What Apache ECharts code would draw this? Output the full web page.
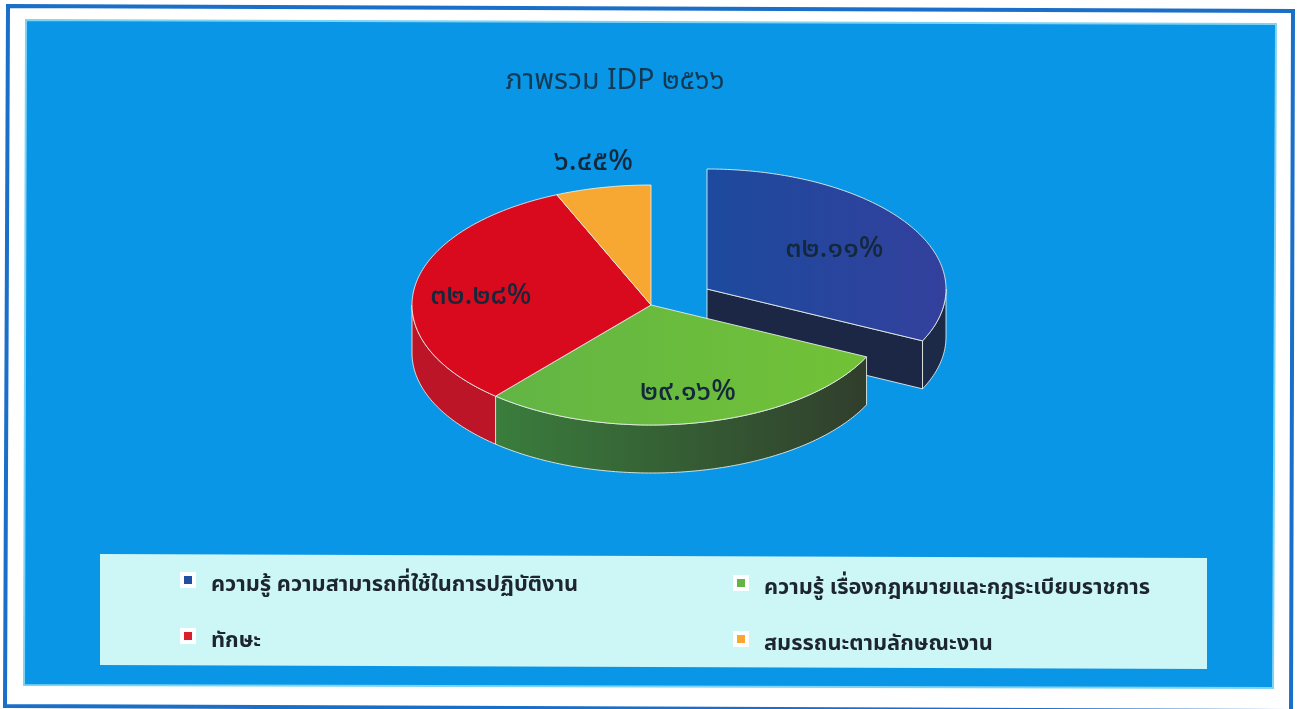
<!DOCTYPE html>
<html><head><meta charset="utf-8">
<style>html,body{margin:0;padding:0;background:#fff}#c{width:1297px;height:709px}</style>
<script src="https://cdn.jsdelivr.net/npm/echarts@6/dist/echarts.min.js"></script>
</head><body><div id="c"></div>
<script>
const titleText = 'ภาพรวม IDP ๒๕๖๖';
const categories = ['ความรู้ ความสามารถที่ใช้ในการปฏิบัติงาน','ความรู้ เรื่องกฎหมายและกฎระเบียบราชการ','ทักษะ','สมรรถนะตามลักษณะงาน'];
const values = [32.11, 29.16, 32.28, 6.45];
const FONT = '"Noto Sans Thai","Noto Sans Thai UI","Noto Sans","Loma","Garuda","Liberation Sans","DejaVu Sans",sans-serif';

const CX = 651, CY = 305, RX = 239, RY = 120, DEPTH = 48;
const grad = (a, b) => ({type:'linear',x:0,y:0,x2:1,y2:0,colorStops:[{offset:0,color:a},{offset:1,color:b}]});
const sliceStyle = [
  {top:grad('#1c4a9e','#33409c'), wall:'#1c2a48', cut:'#1b2744', off:[56,-16], k:[.63,.62], dy:2},
  {top:grad('#62b545','#72c236'), wall:grad('#3a7d3c','#303e2c'), off:[0,0], k:[.75,.75], dy:1},
  {top:'#da0a1e', wall:'#bd1528', off:[0,0], k:[.72,.72], dy:6},
  {top:'#f6a832', wall:null, off:[0,0], k:[1.2,1.2], dy:0}
];
const legendColors = ['#1f4ea3','#62b545','#d81f2e','#f6a832'];
const EDGE = 'rgba(235,240,235,.85)';
const total = values.reduce((a,b)=>a+b,0);
const thaiDigits = s => s.replace(/\d/g, d => '๐๑๒๓๔๕๖๗๘๙'[d]);

function arcPts(a0, a1, ox, oy) {
  const pts = [], n = Math.max(2, Math.ceil(Math.abs(a1-a0)));
  for (let i=0;i<=n;i++){
    const a=(a0+(a1-a0)*i/n)*Math.PI/180;
    pts.push([CX+ox+RX*Math.sin(a), CY+oy-RY*Math.cos(a)]);
  }
  return pts;
}
function renderSlice(idx){
  return function(params, api){
    let before = 0; for(let i=0;i<idx;i++) before += values[i];
    const a0 = before/total*360, a1 = (before+api.value(0))/total*360;
    const st = sliceStyle[idx], [ox,oy] = st.off, kids = [];
    const lineStyle = {stroke:EDGE,lineWidth:1};
    if (st.cut) {
      const e = arcPts(a1,a1,ox,oy)[0], c=[CX+ox,CY+oy];
      kids.push({type:'polygon',shape:{points:[c,e,[e[0],e[1]+DEPTH],[c[0],c[1]+DEPTH]]},style:{fill:st.cut,stroke:EDGE,lineWidth:1}});
    }
    const w0 = Math.max(a0,90), w1 = Math.min(a1,270);
    if (st.wall && w1>w0) {
      const up = arcPts(w0,w1,ox,oy), dn = arcPts(w1,w0,ox,oy+DEPTH);
      kids.push({type:'polygon',shape:{points:up.concat(dn)},style:Object.assign({fill:st.wall},lineStyle)});
    }
    kids.push({type:'polygon',shape:{points:[[CX+ox,CY+oy]].concat(arcPts(a0,a1,ox,oy))},style:Object.assign({fill:st.top},lineStyle)});
    const mid=(a0+a1)/2*Math.PI/180;
    kids.push({type:'text',z2:10,style:{
      x:CX+ox+RX*st.k[0]*Math.sin(mid), y:CY+oy-RY*st.k[1]*Math.cos(mid)+st.dy,
      text:thaiDigits(api.value(0).toFixed(2))+'%', align:'center', verticalAlign:'middle',
      font:'500 29px '+FONT, fill:'#14283c'}});
    return {type:'group',children:kids};
  };
}
const series = categories.map((name,i)=>({
  name, type:'custom', coordinateSystem:'none', z:2+i, silent:true, animation:false,
  itemStyle:{color:legendColors[i]},
  data:[[values[i]]], renderItem:renderSlice(i), encode:{value:0}
}));
const legendBase = {orient:'vertical',icon:'rect',itemWidth:12,itemHeight:12,itemGap:30,
  selectedMode:false,
  formatter:n=>'{t|'+n+'}',
  itemStyle:{borderColor:'#ffffff',borderWidth:4},
  textStyle:{rich:{t:{fontFamily:FONT,fontSize:21.8,fontWeight:'bold',color:'#1c2530',padding:[14,0,0,12]}}}};

const chart = echarts.init(document.getElementById('c'),null,{renderer:'canvas'});
chart.setOption({
  animation:false,
  backgroundColor:'#ffffff',
  title:{text:titleText,left:610,top:64,textAlign:'center',textStyle:{fontFamily:FONT,fontSize:28.5,fontWeight:'normal',color:'#123a55'}},
  legend:[
    Object.assign({},legendBase,{left:175,top:567,data:[categories[0],categories[2]]}),
    Object.assign({},legendBase,{left:728,top:570,data:[categories[1],categories[3]]})
  ],
  graphic:[
    {type:'polygon',z:-5,shape:{points:[[8,6],[1293,11],[1291,711],[5,706]]},style:{fill:'#fff',stroke:'#1a6fc8',lineWidth:4}},
    {type:'polygon',z:-4,shape:{points:[[26,20],[1276,24],[1273,688],[24,685]]},style:{fill:'#0a96e6',stroke:'#7fd4f5',lineWidth:2}},
    {type:'polygon',z:-3,shape:{points:[[100,554],[1207,558],[1207,669],[100,665]]},style:{fill:'#cdf6f6'}}
  ],
  series
});
</script></body></html>
